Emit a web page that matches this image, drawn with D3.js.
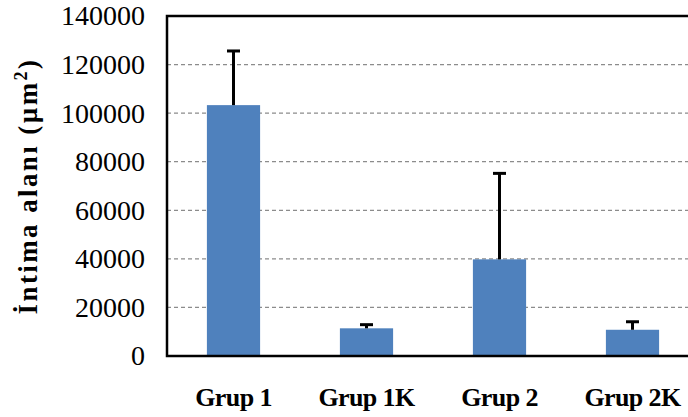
<!DOCTYPE html>
<html>
<head>
<meta charset="utf-8">
<script src="https://cdn.jsdelivr.net/npm/d3@7"></script>
<style>
  body { margin: 0; background: #fff; }
  svg { display: block; }
</style>
</head>
<body>
<div id="chart"></div>
<script>
var groups = ['Grup 1', 'Grup 1K', 'Grup 2', 'Grup 2K'];
var means = [103300, 11400, 39800, 10800];
var upperErr = [125600, 12900, 75200, 14100];
var yTicks = [0, 20000, 40000, 60000, 80000, 100000, 120000, 140000];

var w = 688;
var h = 417;
var plotL = 167, plotT = 16, plotB = 356, plotR = 699;

var svg = d3.select('#chart')
            .append('svg')
            .attr('width', w)
            .attr('height', h);

var x = d3.scaleBand()
  .domain(groups)
  .range([plotL, plotR])
  .paddingInner(0.6)
  .paddingOuter(0.3);

var y = d3.scaleLinear()
  .domain([0, 140000])
  .range([plotB, plotT]);

// gridlines
svg.append('g')
  .selectAll('line')
  .data(yTicks.filter(function(d) { return d > 0 && d < 140000; }))
  .enter()
  .append('line')
  .attr('x1', plotL)
  .attr('x2', plotR)
  .attr('y1', function(d) { return y(d); })
  .attr('y2', function(d) { return y(d); })
  .attr('stroke', '#8c8c8c')
  .attr('stroke-width', 1.2)
  .attr('stroke-dasharray', '4,3');

// bars
svg.append('g')
  .selectAll('rect')
  .data(means)
  .enter()
  .append('rect')
  .attr('x', function(d, i) { return x(groups[i]); })
  .attr('y', function(d) { return y(d); })
  .attr('width', x.bandwidth())
  .attr('height', function(d) { return y(0) - y(d); })
  .attr('fill', '#4f81bd');

// error bars
var err = svg.append('g')
  .attr('stroke', '#000')
  .attr('stroke-width', 3);
err.selectAll('line.v')
  .data(upperErr)
  .enter()
  .append('line')
  .attr('class', 'v')
  .attr('x1', function(d, i) { return x(groups[i]) + x.bandwidth() / 2; })
  .attr('x2', function(d, i) { return x(groups[i]) + x.bandwidth() / 2; })
  .attr('y1', function(d, i) { return y(means[i]); })
  .attr('y2', function(d) { return y(d); });
err.selectAll('line.cap')
  .data(upperErr)
  .enter()
  .append('line')
  .attr('class', 'cap')
  .attr('x1', function(d, i) { return x(groups[i]) + x.bandwidth() / 2 - 6.5; })
  .attr('x2', function(d, i) { return x(groups[i]) + x.bandwidth() / 2 + 6.5; })
  .attr('y1', function(d) { return y(d); })
  .attr('y2', function(d) { return y(d); });

// plot border
svg.append('rect')
  .attr('x', plotL)
  .attr('y', plotT)
  .attr('width', plotR - plotL)
  .attr('height', plotB - plotT)
  .attr('fill', 'none')
  .attr('stroke', '#000')
  .attr('stroke-width', 2.5);

// y axis labels
var yAxis = d3.axisLeft(y)
  .tickValues(yTicks)
  .tickFormat(d3.format('d'))
  .tickSize(0)
  .tickPadding(22);
var gy = svg.append('g')
  .attr('transform', 'translate(' + plotL + ',0)')
  .call(yAxis);
gy.select('.domain').remove();
gy.selectAll('text')
  .attr('font-family', '"Liberation Serif", "Times New Roman", serif')
  .attr('font-size', '28px')
  .attr('fill', '#000');

// x axis labels
svg.selectAll('text.xl')
  .data(groups)
  .enter()
  .append('text')
  .attr('class', 'xl')
  .text(function(d) { return d; })
  .attr('x', function(d) { return x(d) + x.bandwidth() / 2; })
  .attr('y', 406)
  .attr('text-anchor', 'middle')
  .attr('font-family', '"Liberation Serif", "Times New Roman", serif')
  .attr('font-weight', 'bold')
  .attr('font-size', '26px')
  .attr('letter-spacing', '-0.6px')
  .attr('fill', '#000');

// y title
var title = svg.append('text')
  .attr('transform', 'translate(37,186) rotate(-90)')
  .attr('text-anchor', 'middle')
  .attr('font-family', '"Liberation Serif", "Times New Roman", serif')
  .attr('font-weight', 'bold')
  .attr('font-size', '27px')
  .attr('letter-spacing', '2.4px')
  .attr('fill', '#000');
title.append('tspan').text('İntima alanı (µm');
title.append('tspan')
  .attr('font-size', '18px')
  .attr('dy', '-10')
  .text('2');
title.append('tspan')
  .attr('dy', '10')
  .text(')');
</script>
</body>
</html>
